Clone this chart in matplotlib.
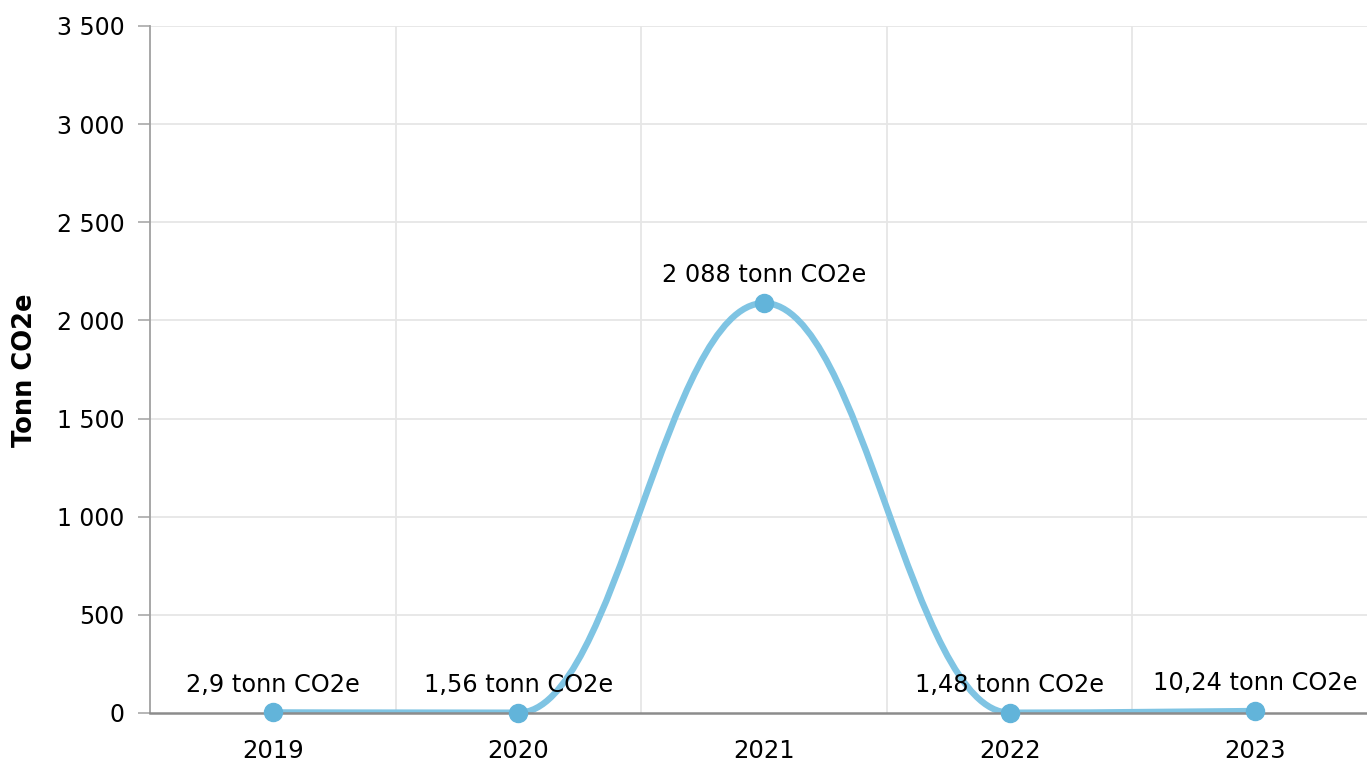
import matplotlib
matplotlib.use("Agg")
import matplotlib.pyplot as plt
import numpy as np
from matplotlib.path import Path
from matplotlib.patches import PathPatch

years = ["2019", "2020", "2021", "2022", "2023"]
values = [2.9, 1.56, 2088, 1.48, 10.24]
unit = "tonn CO2e"
y_ticks = [0, 500, 1000, 1500, 2000, 2500, 3000, 3500]

line_color = "#7fc4e3"
marker_color = "#62b4da"
grid_color = "#e6e6e6"
axis_color = "#8c8c8c"


def no_fmt(v):
    # norwegian style: space for thousands, comma for decimals
    if abs(v - round(v)) < 1e-9:
        s = f"{int(round(v)):,}".replace(",", " ")
    else:
        s = f"{v:,.2f}".rstrip("0").rstrip(".")
        s = s.replace(",", " ").replace(".", ",")
    return s


def spline_path(xs, ys, smoothing=1.5):
    # highcharts-style spline control points
    n = len(xs)
    right = [None] * n
    left = [None] * n
    denom = smoothing + 1
    for i in range(1, n - 1):
        px, py = xs[i], ys[i]
        lx, ly = xs[i - 1], ys[i - 1]
        nx, ny = xs[i + 1], ys[i + 1]
        lcx = (smoothing * px + lx) / denom
        lcy = (smoothing * py + ly) / denom
        rcx = (smoothing * px + nx) / denom
        rcy = (smoothing * py + ny) / denom
        corr = (rcy - lcy) * (rcx - px) / (rcx - lcx) + py - rcy
        lcy += corr
        rcy += corr
        if lcy > ly and lcy > py:
            lcy = max(ly, py)
            rcy = 2 * py - lcy
        elif lcy < ly and lcy < py:
            lcy = min(ly, py)
            rcy = 2 * py - lcy
        if rcy > ny and rcy > py:
            rcy = max(ny, py)
            lcy = 2 * py - rcy
        elif rcy < ny and rcy < py:
            rcy = min(ny, py)
            lcy = 2 * py - rcy
        left[i] = (lcx, lcy)
        right[i] = (rcx, rcy)
    verts = [(xs[0], ys[0])]
    codes = [Path.MOVETO]
    for i in range(1, n):
        c1 = right[i - 1] if right[i - 1] else (xs[i - 1], ys[i - 1])
        c2 = left[i] if left[i] else (xs[i], ys[i])
        verts += [c1, c2, (xs[i], ys[i])]
        codes += [Path.CURVE4] * 3
    return Path(verts, codes)


plt.rcParams["font.family"] = "DejaVu Sans"

fig = plt.figure(figsize=(13.67, 7.65), dpi=100)
ax = fig.add_axes([150 / 1367, 52 / 765, 1217 / 1367, 687 / 765])

x = np.arange(len(years))
ax.set_xlim(-0.5, 4.455)
ax.set_ylim(0, 3500)

for yt in y_ticks[1:]:
    ax.axhline(yt, color=grid_color, lw=1.3, zorder=0)
for xb in np.arange(0.5, len(years) - 0.5, 1):
    ax.axvline(xb, color=grid_color, lw=1.3, zorder=0)

ax.add_patch(PathPatch(spline_path(list(x), values), fill=False,
                       edgecolor=line_color, lw=4.6, capstyle="butt", zorder=3))
ax.plot(x, values, "o", color=marker_color, ms=13, clip_on=False, zorder=5)

for xi, v in zip(x, values):
    ax.annotate(f"{no_fmt(v)} {unit}", (xi, v), xytext=(0, 20),
                textcoords="offset points", ha="center", va="center",
                fontsize=17.3, color="black", zorder=6, annotation_clip=False)

for side in ["top", "right"]:
    ax.spines[side].set_visible(False)
ax.spines["left"].set_color("#a0a0a0")
ax.spines["left"].set_linewidth(1.3)
ax.spines["bottom"].set_color(axis_color)
ax.spines["bottom"].set_linewidth(1.8)
ax.spines["bottom"].set_zorder(4)

ax.set_yticks(y_ticks)
ax.set_yticklabels([no_fmt(t) for t in y_ticks])
ax.tick_params(axis="y", length=8.5, width=1.3, color="#b0b0b0", pad=10,
               labelsize=17)

ax.set_xticks(x)
ax.set_xticklabels(years)
ax.tick_params(axis="x", which="major", length=0, pad=19, labelsize=17.5)
ax.set_xticks([2, 4], minor=True)
ax.tick_params(axis="x", which="minor", length=7, width=1.3, color="#a0a0a0")

fig.text(25 / 1367, 1 - 370 / 765, "Tonn CO2e", rotation=90, ha="center",
         va="center", fontsize=18.5, fontweight="bold")

fig.savefig("out.png", dpi=100, facecolor="white")
